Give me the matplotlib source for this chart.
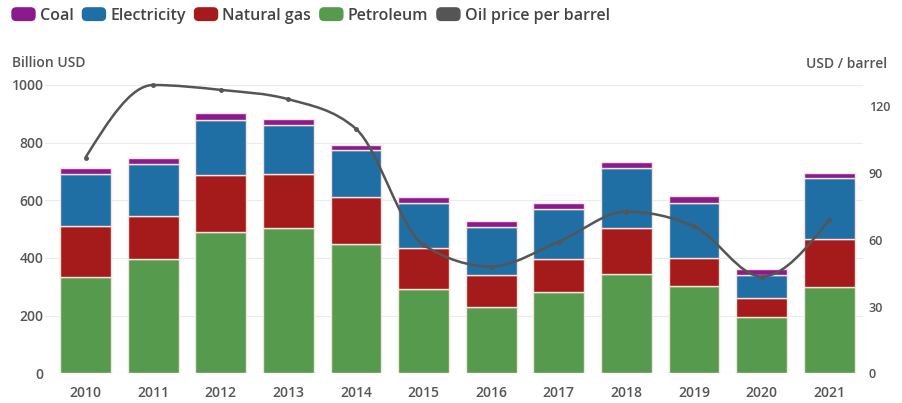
import matplotlib.pyplot as plt
import numpy as np
from matplotlib.patches import Patch, PathPatch, FancyBboxPatch
from matplotlib.path import Path
from matplotlib.legend_handler import HandlerPatch

plt.rcParams['font.family'] = ['Open Sans', 'DejaVu Sans']
plt.rcParams['font.weight'] = 'semibold'

years = ['2010', '2011', '2012', '2013', '2014', '2015',
         '2016', '2017', '2018', '2019', '2020', '2021']
# stacked segments (Billion USD)
petroleum = [335, 395, 489, 503, 449, 291, 231, 283, 345, 303, 194, 301]
natural_gas = [176, 151, 198, 187, 164, 144, 110, 114, 159, 97, 68, 165]
electricity = [180, 180, 192, 171, 162, 155, 168, 173, 207, 192, 80, 210]
coal = [22, 21, 23, 20, 17, 20, 19, 20, 21, 22, 19, 20]
oil_price = [97, 129.6, 127.4, 123.2, 109.9, 57.7, 48, 59.2, 72.7, 66, 43.5, 69]

c_coal = '#8c1a8c'
c_elec = '#1f6fa5'
c_gas = '#a51a1a'
c_pet = '#569a4e'
c_oil = '#555555'
txt = '#555555'


def monotone_path(xs, ys):
    # monotone cubic curve through the points (like d3 curveMonotoneX)
    xs = np.asarray(xs, float)
    ys = np.asarray(ys, float)
    n = len(xs)
    h = np.diff(xs)
    s = np.diff(ys) / h
    t = np.zeros(n)
    for i in range(1, n - 1):
        p = (s[i - 1] * h[i] + s[i] * h[i - 1]) / (h[i - 1] + h[i])
        t[i] = (np.sign(s[i - 1]) + np.sign(s[i])) * min(abs(s[i - 1]), abs(s[i]), 0.5 * abs(p))
    t[0] = (3 * s[0] - t[1]) / 2
    t[-1] = (3 * s[-1] - t[-2]) / 2
    verts = [(xs[0], ys[0])]
    codes = [Path.MOVETO]
    for i in range(n - 1):
        dx = h[i] / 3
        verts += [(xs[i] + dx, ys[i] + dx * t[i]),
                  (xs[i + 1] - dx, ys[i + 1] - dx * t[i + 1]),
                  (xs[i + 1], ys[i + 1])]
        codes += [Path.CURVE4] * 3
    return Path(verts, codes)


def rounded_box(legend, orig_handle, xdescent, ydescent, width, height, fontsize):
    return FancyBboxPatch((-xdescent, -ydescent), width, height,
                          boxstyle='round,pad=0,rounding_size=3')


def main():
    fig = plt.figure(figsize=(9.02, 4.03), dpi=100)
    ax = fig.add_axes([45 / 902, 1 - 373.3 / 403, (863 - 45) / 902, (373.3 - 85) / 403])
    x = np.arange(len(years))
    w = 0.75
    edge = dict(edgecolor='#f3e4de', linewidth=1.0)

    b1 = np.array(petroleum)
    b2 = b1 + np.array(natural_gas)
    b3 = b2 + np.array(electricity)
    ax.bar(x, petroleum, w, color=c_pet, **edge, zorder=2)
    ax.bar(x, natural_gas, w, bottom=b1, color=c_gas, **edge, zorder=2)
    ax.bar(x, electricity, w, bottom=b2, color=c_elec, **edge, zorder=2)
    ax.bar(x, coal, w, bottom=b3, color=c_coal, **edge, zorder=2)

    ax.set_ylim(0, 1000)
    ax.set_xlim(-0.6, 11.5)
    ax.set_yticks(range(0, 1001, 200))
    ax.set_xticks(x)
    ax.set_xticklabels(years)
    ax.grid(axis='y', color='#ebebeb', linewidth=0.8, zorder=0)
    ax.set_axisbelow(True)
    for s in ax.spines.values():
        s.set_visible(False)
    ax.tick_params(axis='both', length=0, colors=txt, labelsize=10)
    ax.tick_params(axis='x', pad=9)
    ax.tick_params(axis='y', pad=1)

    ax2 = ax.twinx()
    ax2.set_ylim(0, 129.6)
    ax2.set_yticks(range(0, 121, 30))
    for s in ax2.spines.values():
        s.set_visible(False)
    ax2.tick_params(axis='y', length=0, colors=txt, labelsize=9, pad=4)
    curve = PathPatch(monotone_path(x, oil_price), facecolor='none', edgecolor=c_oil,
                      linewidth=1.8, zorder=5, clip_on=False)
    ax2.add_patch(curve)
    ax2.plot(x, oil_price, 'o', color=c_oil, markersize=2.5, zorder=6, clip_on=False)

    fig.text(12 / 902, 1 - 63 / 403, 'Billion USD', color=txt, fontsize=10,
             va='center', ha='left')
    fig.text(887 / 902, 1 - 64 / 403, 'USD / barrel', color=txt, fontsize=10,
             va='center', ha='right')

    handles = [Patch(color=c_coal, label='Coal'),
               Patch(color=c_elec, label='Electricity'),
               Patch(color=c_gas, label='Natural gas'),
               Patch(color=c_pet, label='Petroleum'),
               Patch(color=c_oil, label='Oil price per barrel')]
    leg = fig.legend(handles=handles, loc='center left', bbox_to_anchor=(12 / 902, 1 - 15.7 / 403),
                     ncol=5, frameon=False, fontsize=11.5, handlelength=1.44,
                     handleheight=0.83, handletextpad=0.3, columnspacing=0.55,
                     borderaxespad=0, borderpad=0,
                     handler_map={Patch: HandlerPatch(patch_func=rounded_box)})
    for t in leg.get_texts():
        t.set_color('#444444')

    fig.savefig('out.png', dpi=100)


if __name__ == '__main__':
    main()
